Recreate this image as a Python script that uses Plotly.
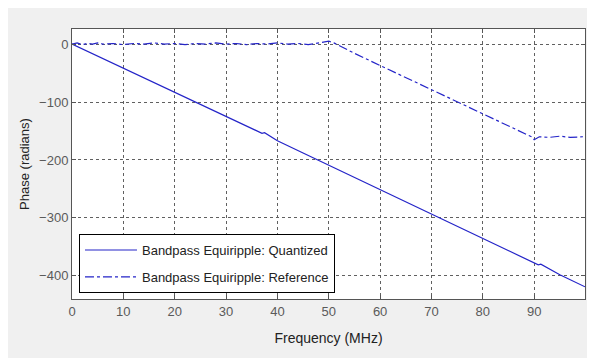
import plotly.graph_objects as go

# Quantized response
freq_q = [0, 5, 10, 15, 20, 25, 30, 35, 37, 37.5, 40, 45, 50, 55, 60, 65, 70, 75, 80, 85, 90, 90.8, 91.3, 95, 99.9]
phase_q = [0, -21, -42, -63, -84, -105, -126, -147, -154, -153, -167, -188, -209, -230, -251, -272, -293, -314, -335, -356, -377, -381, -380, -398, -419]

# Reference response
freq_r = [0, 1, 2, 3, 4, 5, 6, 8, 10, 12, 14, 16, 18, 20, 22, 24, 26, 28, 30, 32, 34, 36, 38,
          40, 42, 44, 46, 48, 49, 50, 51, 55, 60, 65, 70, 75, 80, 85, 89.5, 90, 91, 93, 95, 97, 99.5]
phase_r = [0, 2, -1, 1, 0, 2, 0, 1, -1, 1, 0, 2, 0, 1, -1, 1, 0, 2, 0, 1, -1, 1, 0,
           2, 0, 1, -1, 2, 3, 5, 2, -16, -37, -58, -79, -100, -121, -142, -160, -165, -160, -161, -159, -161, -160]

x_ticks = [0, 10, 20, 30, 40, 50, 60, 70, 80, 90]
y_ticks = [0, -100, -200, -300, -400]

FONT = "Liberation Sans, Arial, sans-serif"
LINE_COLOR = "#2424c8"

fig = go.Figure()
fig.add_trace(go.Scatter(x=freq_q, y=phase_q, mode="lines",
                         name="Bandpass Equiripple: Quantized", legendgroup="q",
                         line=dict(color=LINE_COLOR, width=1.2)))
fig.add_trace(go.Scatter(x=freq_r, y=phase_r, mode="lines",
                         name="Bandpass Equiripple: Reference", legendgroup="r",
                         line=dict(color=LINE_COLOR, width=1.2, dash="dashdot")))

axis_common = dict(
    showline=True, linecolor="#555555", linewidth=1, mirror="ticks",
    ticks="inside", ticklen=4, tickcolor="#555555",
    showgrid=True, gridcolor="#606060", griddash="3px,3px", gridwidth=1,
    zeroline=False, automargin=False,
    tickfont=dict(family=FONT, size=13, color="#5a5a5a"),
)

fig.update_xaxes(range=[0, 99.9], tickvals=x_ticks,
                 title=dict(text="Frequency (MHz)", standoff=15,
                            font=dict(family=FONT, size=14, color="#222222")),
                 **axis_common)
fig.update_yaxes(range=[-440, 26], tickvals=y_ticks,
                 title=dict(text="Phase (radians)", standoff=6,
                            font=dict(family=FONT, size=13, color="#222222")),
                 **axis_common)

# The page body adds an 8px white margin at top/left, like the reference
fig.update_layout(
    width=587, height=350,
    margin=dict(l=64, r=10, t=21, b=59),
    paper_bgcolor="#f0f0f0", plot_bgcolor="white",
    showlegend=True,
    legend=dict(x=0.0136, y=0.022, xanchor="left", yanchor="bottom",
                bgcolor="white", bordercolor="black", borderwidth=1,
                font=dict(family=FONT, size=13, color="#222222"),
                tracegroupgap=7, itemwidth=52),
)

fig.write_html("out.html")
